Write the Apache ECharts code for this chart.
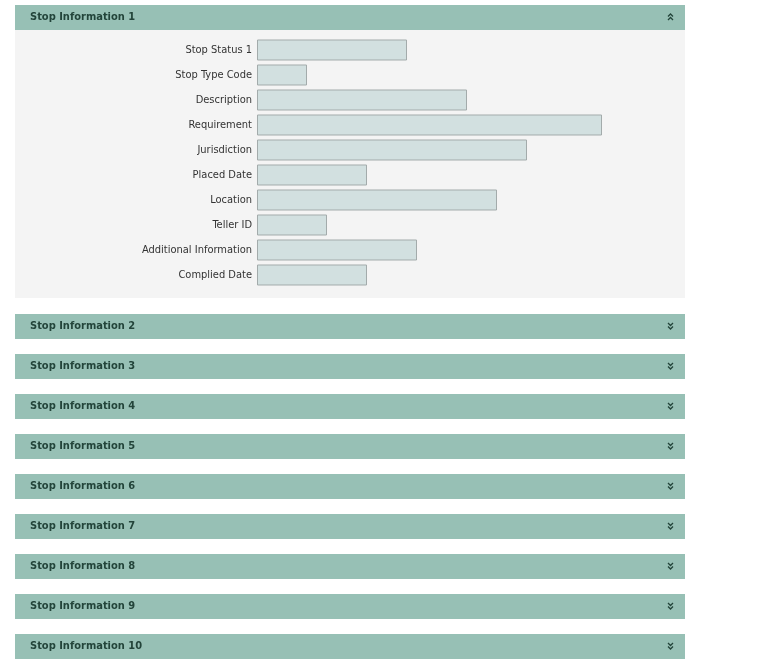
<!DOCTYPE html>
<html><head><meta charset="utf-8">
<script src="https://cdn.jsdelivr.net/npm/echarts@6/dist/echarts.min.js"></script>
<style>html,body{margin:0;padding:0;background:#fff}#c{width:758px;height:669px}</style>
</head><body><div id="c"></div>
<script>
const fields = ['Stop Status 1','Stop Type Code','Description','Requirement','Jurisdiction','Placed Date','Location','Teller ID','Additional Information','Complied Date'];
const fieldWidths = [150,50,210,345,270,110,240,70,160,110];
const sections = ['Stop Information 1','Stop Information 2','Stop Information 3','Stop Information 4','Stop Information 5','Stop Information 6','Stop Information 7','Stop Information 8','Stop Information 9','Stop Information 10'];

const headerTops = [5,314,354,394,434,474,514,554,594,634];
const graphics = [{type:'rect',shape:{x:15,y:30,width:670,height:268},style:{fill:'#f4f4f4'},z:-10}];
sections.forEach((s,i)=>{
  const y = headerTops[i];
  graphics.push({type:'rect',shape:{x:15,y:y,width:670,height:25},style:{fill:'#97c0b5'}});
  graphics.push({type:'text',x:30,y:y+12.5,style:{text:s,fill:'#23443a',font:'bold 11px "DejaVu Sans Condensed","DejaVu Sans"',verticalAlign:'middle'}});
  const cx = 670.5, cy = y+12;
  const up = i===0;
  [-2,1.5].forEach(d=>{
    const yy = cy + d;
    const pts = up ? [[cx-2.5,yy+1.5],[cx,yy-1],[cx+2.5,yy+1.5]] : [[cx-2.5,yy-1],[cx,yy+1.5],[cx+2.5,yy-1]];
    graphics.push({type:'polyline',shape:{points:pts},style:{stroke:'#23443a',lineWidth:1.3,fill:null}});
  });
});

const chart = echarts.init(document.getElementById('c'));
chart.setOption({
  animation:false,
  grid:{left:257,top:37.5,width:428,height:250},
  xAxis:{type:'value',min:0,max:428,show:false},
  yAxis:{type:'category',data:fields,inverse:true,axisLine:{show:false},axisTick:{show:false},
    axisLabel:{margin:5,color:'#333',fontSize:11,fontFamily:'"DejaVu Sans Condensed","DejaVu Sans"'}},
  series:[{type:'bar',data:fieldWidths,barWidth:21,
    itemStyle:{color:'#d2e0e0',borderColor:'#a3abab',borderWidth:1}}],
  graphic:graphics
});
</script></body></html>
